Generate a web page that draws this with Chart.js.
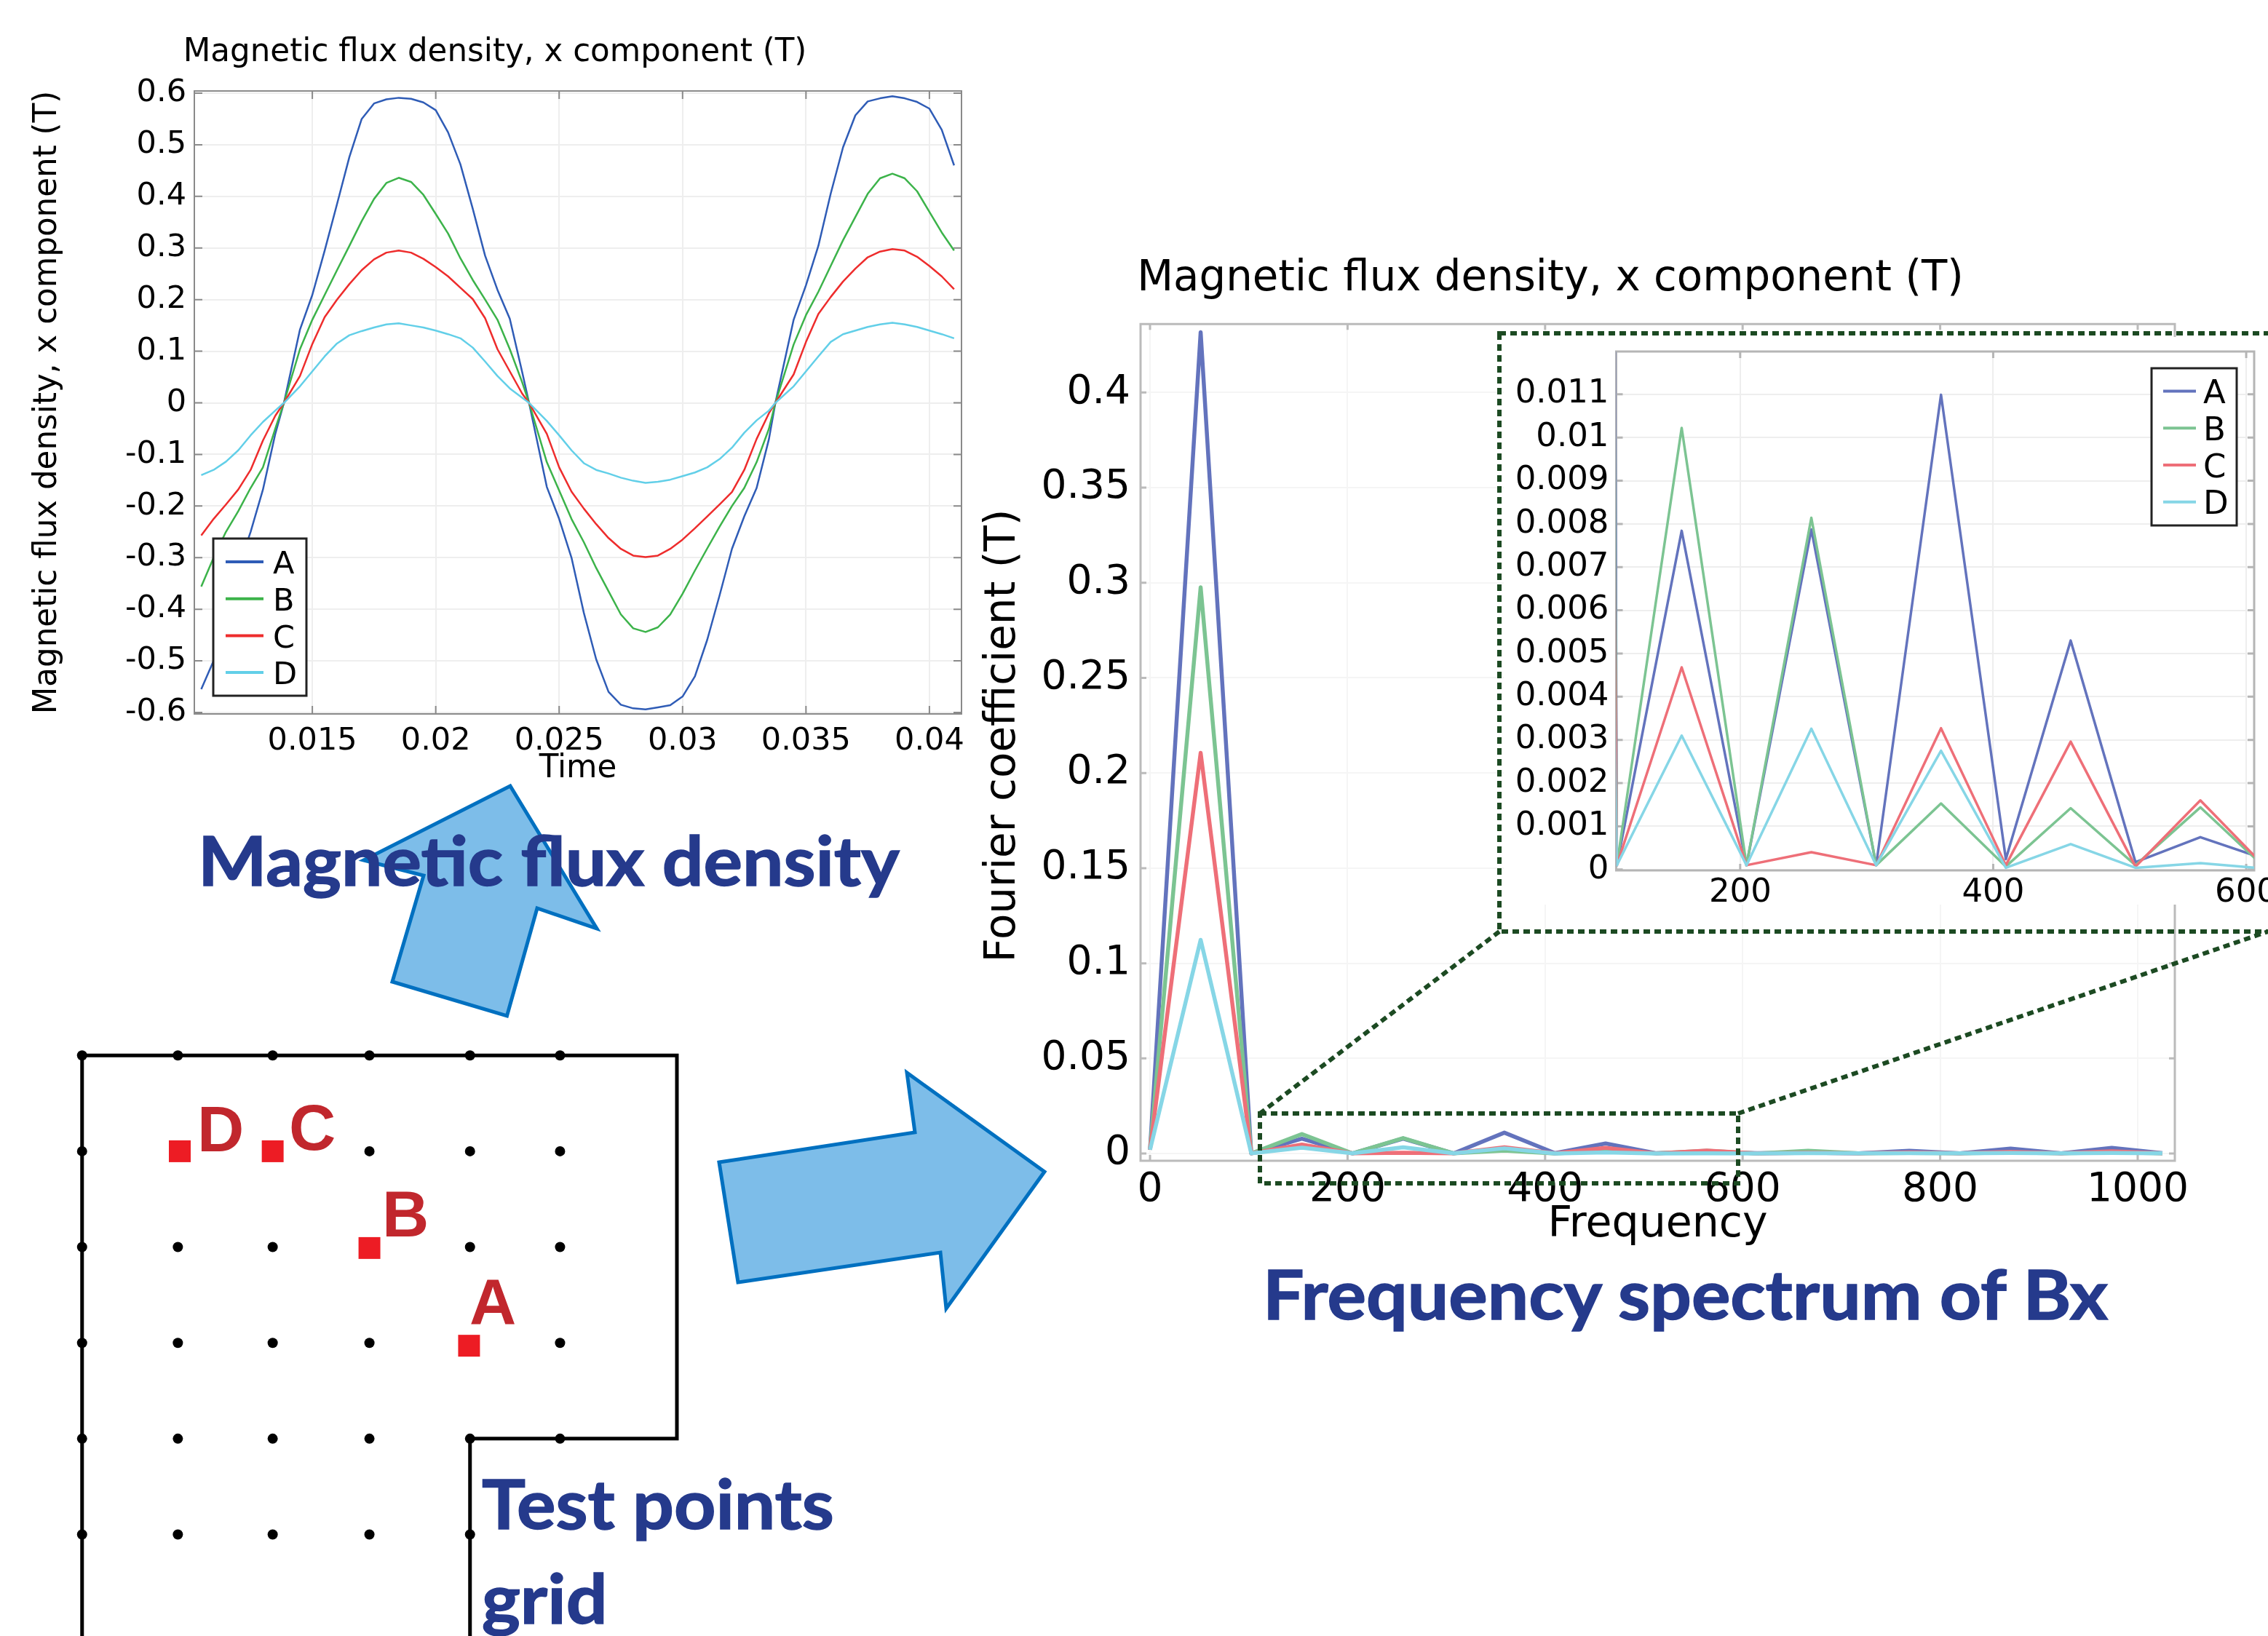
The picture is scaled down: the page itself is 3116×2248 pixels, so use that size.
<!DOCTYPE html>
<html lang="en">
<head>
<meta charset="UTF-8">
<title>Magnetic flux density and frequency spectrum of Bx</title>
<script src="https://cdn.jsdelivr.net/npm/chart.js"></script>
<style>
    html, body { margin: 0; background: #fff; }
    #page { position: relative; width: 3116px; height: 2248px; overflow: hidden; background: #fff; }
    #page canvas, #page svg { position: absolute; }
    .heading { position: absolute; font: bold 94px Lato, sans-serif; color: #253a8c; white-space: nowrap; line-height: 1; transform: scaleX(1.065); transform-origin: left top; -webkit-text-stroke: 1.5px #253a8c; }
    .pointName { position: absolute; font: bold 89px "Liberation Sans", sans-serif; color: #c1272d; line-height: 1; }
</style>
</head>
<body>
<div id="page">
    <canvas id="timeChart" width="1321" height="1090" style="left:39px;top:0"></canvas>
    <canvas id="gridChart" width="900" height="848" style="left:60px;top:1400px"></canvas>
    <canvas id="specChart" width="1788" height="1410" style="left:1272px;top:320px"></canvas>
    <svg width="3116" height="2248" style="left:0;top:0">
        <!-- arrows -->
        <polygon points="701,1080 820,1276 738,1248 696.5,1396 539,1349 582,1203 499.5,1182" fill="#7dbde9" stroke="#0070c0" stroke-width="5"/>
        <polygon points="988,1597 1257,1556 1246,1474 1435,1610 1300,1798 1292,1721 1014,1762" fill="#7dbde9" stroke="#0070c0" stroke-width="5"/>
        <!-- zoom box and connectors -->
        <rect x="2066" y="463" width="1060" height="780" fill="#fff"/>
        <g fill="none" stroke="#1c4a22" stroke-width="6" stroke-dasharray="9 6">
            <rect x="2060" y="458" width="1080" height="822"/>
            <rect x="1731" y="1530" width="657" height="96"/>
            <line x1="2060" y1="1280" x2="1731" y2="1530"/>
            <line x1="2388" y1="1530" x2="3116" y2="1280"/>
        </g>
    </svg>
    <canvas id="insetChart" width="1180" height="800" style="left:2020px;top:440px"></canvas>

    <div class="pointName" style="left:271px;top:1507px">D</div>
    <div class="pointName" style="left:397px;top:1505px">C</div>
    <div class="pointName" style="left:525px;top:1624px">B</div>
    <div class="pointName" style="left:645px;top:1745px">A</div>

    <div class="heading" style="left:272px;top:1134px">Magnetic flux density</div>
    <div class="heading" style="left:1735px;top:1730px">Frequency spectrum of Bx</div>
    <div class="heading" style="left:662px;top:2018px">Test points</div>
    <div class="heading" style="left:662px;top:2148px">grid</div>
</div>

<script>
// time signal
const names = ['A', 'B', 'C', 'D'];
const times = [.0105,.011,.0115,.012,.0125,.013,.0135,.01385,.0145,.015,.0155,.016,.0165,.017,.0175,.018,.0185,.019,.0195,.02,.0205,.021,.0215,.022,.0225,.023,.0235,.02378,.0245,.025,.0255,.026,.0265,.027,.0275,.028,.0285,.029,.0295,.03,.0305,.031,.0315,.032,.0325,.033,.0335,.03376,.0345,.035,.0355,.036,.0365,.037,.0375,.038,.0385,.039,.0395,.04,.0405,.041];
const fluxA = [-.555,-.5,-.43,-.32,-.25,-.168,-.06,0,.142,.209,.295,.385,.476,.55,.58,.588,.591,.589,.582,.567,.524,.462,.376,.285,.219,.163,.06,0,-.163,-.225,-.3,-.407,-.497,-.56,-.585,-.592,-.594,-.59,-.586,-.569,-.53,-.459,-.373,-.283,-.22,-.165,-.07,0,.161,.228,.304,.405,.495,.557,.584,.59,.594,.59,.583,.57,.529,.46];
const fluxB = [-.356,-.3,-.25,-.21,-.165,-.125,-.05,0,.104,.161,.209,.257,.304,.352,.395,.426,.436,.428,.403,.366,.328,.28,.238,.2,.161,.104,.04,0,-.115,-.17,-.225,-.27,-.32,-.365,-.41,-.437,-.444,-.435,-.41,-.37,-.325,-.282,-.24,-.2,-.165,-.115,-.05,0,.113,.17,.215,.265,.315,.36,.405,.435,.444,.435,.41,.37,.33,.295];
const fluxC = [-.257,-.225,-.197,-.168,-.13,-.073,-.025,0,.052,.114,.166,.2,.23,.257,.278,.291,.295,.291,.279,.263,.245,.223,.201,.164,.104,.061,.018,0,-.06,-.125,-.172,-.205,-.235,-.262,-.283,-.296,-.299,-.296,-.283,-.265,-.243,-.22,-.197,-.173,-.13,-.07,-.02,0,.055,.118,.172,.205,.235,.26,.282,.293,.298,.295,.283,.265,.245,.22];
const fluxD = [-.14,-.13,-.114,-.092,-.063,-.037,-.015,0,.032,.061,.09,.115,.131,.139,.146,.152,.154,.15,.146,.14,.133,.125,.107,.08,.052,.028,.01,0,-.035,-.063,-.092,-.117,-.13,-.137,-.145,-.151,-.155,-.153,-.149,-.142,-.135,-.125,-.109,-.087,-.058,-.034,-.015,0,.032,.061,.09,.118,.133,.14,.147,.152,.155,.152,.147,.14,.133,.125];
const timeTicks = [.015,.02,.025,.03,.035,.04];
const fluxTicks = [-.6,-.5,-.4,-.3,-.2,-.1,0,.1,.2,.3,.4,.5,.6];

// Fourier coefficients
const freqs = [0,51.25,102.5,153.75,205,256.25,307.5,358.75,410,461.25,512.5,563.75,615,666.25,717.5,768.75,820,871.25,922.5,973.75,1025];
const specA = [.002,.4317,.0001,.00784,.0001,.00787,.0001,.01099,.00024,.0053,.00017,.00075,.00024,.0004,.0001,.0015,.0001,.0026,.0001,.003,.0002];
const specB = [.002,.2976,.0001,.01022,.0001,.00814,.0001,.00153,.00007,.00142,.0001,.00144,.00004,.0015,.0001,.0003,.0001,.0005,.0001,.0006,.0001];
const specC = [.002,.2106,.0001,.00468,.0001,.0004,.0001,.00327,.0001,.00296,.00007,.0016,.00006,.0004,.0001,.0006,.0001,.0009,.0001,.0012,.0001];
const specD = [.002,.1123,.0001,.0031,.0001,.00326,.0001,.00275,.00004,.00059,.00004,.00015,.00002,.0002,.0001,.0002,.0001,.0003,.0001,.0003,.0001];
const freqTicks = [0,200,400,600,800,1000];
const coefTicks = [0,.05,.1,.15,.2,.25,.3,.35,.4];
const insetFreqTicks = [200,400,600];
const insetCoefTicks = [0,.001,.002,.003,.004,.005,.006,.007,.008,.009,.01,.011];

// test point grid, in grid spacings
const gridDotX = [0,1,1.99,3,4.05,4.99, 0,3,4.05,4.99, 0,1,1.99,4.05,4.99, 0,1,1.99,3,4.99, 0,1,1.99,3,4.05,4.99, 0,1,1.99,3,4.05];
const gridDotY = [0,0,0,0,0,0, 1,1,1,1, 2,2,2,2,2, 3,3,3,3,3, 4,4,4,4,4,4, 5,5,5,5,5];
const outlineX = [0,0,6.21,6.21,4.05,4.05];
const outlineY = [6.2,0,0,4,4,6.2];
const testX = [4.04,3,1.99,1.02];
const testY = [3.03,2.01,1,1];

const sharpColors = ['#2f5cb6', '#3cb34a', '#ee2c2c', '#62cfe8'];
const softColors = ['#6373bd', '#7cc492', '#ee6f78', '#86d6e6'];

Chart.defaults.font.family = '"DejaVu Sans", sans-serif';
Chart.defaults.color = '#000';

// box round the plot with short inward ticks on all four sides
const frameTicks = {
    id: 'frameTicks',
    beforeDatasetsDraw(chart, args, opts) {
        const { ctx, chartArea: a, scales } = chart;
        ctx.save();
        ctx.strokeStyle = opts.color;
        ctx.lineWidth = opts.width;
        ctx.beginPath();
        scales.x.ticks.forEach(t => {
            const x = scales.x.getPixelForValue(t.value);
            ctx.moveTo(x, a.top); ctx.lineTo(x, a.top + opts.len);
            ctx.moveTo(x, a.bottom); ctx.lineTo(x, a.bottom - opts.len);
        });
        scales.y.ticks.forEach(t => {
            const y = scales.y.getPixelForValue(t.value);
            ctx.moveTo(a.left, y); ctx.lineTo(a.left + opts.len, y);
            ctx.moveTo(a.right, y); ctx.lineTo(a.right - opts.len, y);
        });
        ctx.rect(a.left, a.top, a.right - a.left, a.bottom - a.top);
        ctx.stroke();
        ctx.restore();
    }
};

// legend box placed inside the plot
const boxLegend = {
    id: 'boxLegend',
    afterDatasetsDraw(chart, args, opts) {
        if (!opts.colors) return;
        const { ctx } = chart;
        ctx.save();
        ctx.fillStyle = '#fff';
        ctx.strokeStyle = '#222';
        ctx.lineWidth = 3;
        ctx.beginPath();
        ctx.rect(opts.x, opts.y, opts.w, opts.h);
        ctx.fill();
        ctx.stroke();
        ctx.font = opts.size + 'px "DejaVu Sans"';
        ctx.textBaseline = 'middle';
        names.forEach((name, i) => {
            const y = opts.firstY + i * opts.stepY;
            ctx.strokeStyle = opts.colors[i];
            ctx.lineWidth = 4;
            ctx.beginPath();
            ctx.moveTo(opts.lineX, y);
            ctx.lineTo(opts.lineX + opts.lineW, y);
            ctx.stroke();
            ctx.fillStyle = '#000';
            ctx.fillText(name, opts.textX, y + 5);
        });
        ctx.restore();
    }
};

function lineSets(xs, series, colors, width) {
    return series.map((ys, i) => ({
        label: names[i],
        data: xs.map((x, j) => ({ x, y: ys[j] })),
        borderColor: colors[i],
        borderWidth: width,
        borderJoinStyle: 'round',
        pointRadius: 0,
        tension: 0,
        order: series.length - i
    }));
}

function axis(c) {
    const s = {
        type: 'linear',
        min: c.min,
        max: c.max,
        afterBuildTicks: scale => { scale.ticks = c.ticks.map(value => ({ value })); },
        afterFit: scale => {
            if (c.height) scale.height = c.height;
            if (c.width) scale.width = c.width;
        },
        grid: { color: c.gridColor || '#eeeeee', lineWidth: 2, drawTicks: false },
        border: { display: false },
        ticks: {
            font: { size: c.size },
            padding: c.pad,
            autoSkip: false,
            maxRotation: 0,
            callback: v => String(v)
        }
    };
    if (c.title) {
        s.title = { display: true, text: c.title, font: { size: c.titleSize, lineHeight: c.titleLine }, padding: c.titlePad };
    }
    return s;
}

function lineChart(id, datasets, x, y, plugins, padding) {
    return new Chart(document.getElementById(id), {
        type: 'line',
        data: { datasets },
        options: {
            responsive: false,
            animation: false,
            layout: { padding },
            scales: { x: axis(x), y: axis(y) },
            plugins
        },
        plugins: [frameTicks, boxLegend]
    });
}

lineChart('timeChart',
    lineSets(times, [fluxA, fluxB, fluxC, fluxD], sharpColors, 2.5),
    { min: .01022, max: .0413, ticks: timeTicks, size: 43, pad: 12, height: 109, title: 'Time', titleSize: 43.6, titleLine: 1.2, titlePad: { top: 0, bottom: 7 } },
    { min: -.6028, max: .6042, ticks: fluxTicks, size: 43, pad: 11, width: 228, title: 'Magnetic flux density, x component (T)', titleSize: 43.6, titleLine: 1, titlePad: { top: 5, bottom: 0 } },
    {
        legend: { display: false },
        tooltip: { enabled: false },
        title: { display: true, text: 'Magnetic flux density, x component (T)', font: { size: 43.6, weight: 'normal', lineHeight: 1.2 }, padding: { top: 47, bottom: 25.7 } },
        frameTicks: { color: '#8a8a8a', width: 2, len: 11 },
        boxLegend: { x: 254, y: 740, w: 128, h: 216, firstY: 772, stepY: 50.7, lineX: 271, lineW: 52, textX: 336, size: 43, colors: sharpColors }
    },
    { right: 39 });

lineChart('specChart',
    lineSets(freqs, [specA, specB, specC, specD], softColors, 5.5),
    { min: -9.6, max: 1037.6, ticks: freqTicks, size: 55, pad: 8, height: 135, gridColor: '#f5f5f5', title: 'Frequency', titleSize: 58.5, titleLine: 1.2, titlePad: { top: 0, bottom: 11 } },
    { min: -.0038, max: .43595, ticks: coefTicks, size: 55, pad: 14, width: 295, gridColor: '#f5f5f5', title: ' Fourier coefficient (T)', titleSize: 58, titleLine: 1.2, titlePad: { top: 72, bottom: 0 } },
    {
        legend: { display: false },
        tooltip: { enabled: false },
        title: { display: true, text: 'Magnetic flux density, x component (T)', font: { size: 57.8, weight: 'normal', lineHeight: 1.2 }, padding: { top: 29, bottom: 27 } },
        frameTicks: { color: '#bbbbbb', width: 3, len: 8 }
    },
    { right: 72 });

lineChart('insetChart',
    lineSets(freqs, [specA, specB, specC, specD], softColors, 3.5),
    { min: 102, max: 606.3, ticks: insetFreqTicks, size: 45, pad: 4, height: 44 },
    { min: -.00002, max: .01199, ticks: insetCoefTicks, size: 45, pad: 10, width: 200.5 },
    {
        legend: { display: false },
        tooltip: { enabled: false },
        frameTicks: { color: '#b5b5b5', width: 3, len: 9 },
        boxLegend: { x: 936, y: 66, w: 117, h: 216, firstY: 97.6, stepY: 50.7, lineX: 952, lineW: 45, textX: 1007, size: 45, colors: softColors }
    },
    { top: 43, right: 103 });

new Chart(document.getElementById('gridChart'), {
    type: 'scatter',
    data: {
        datasets: [
            {
                data: testX.map((x, i) => ({ x, y: testY[i] })),
                pointStyle: 'rect',
                pointRadius: 21.2,
                backgroundColor: '#ed1c24',
                borderWidth: 0
            },
            {
                data: gridDotX.map((x, i) => ({ x, y: gridDotY[i] })),
                pointRadius: 7,
                backgroundColor: '#000',
                borderWidth: 0
            },
            {
                data: outlineX.map((x, i) => ({ x, y: outlineY[i] })),
                showLine: true,
                pointRadius: 0,
                borderColor: '#000',
                borderWidth: 5
            }
        ]
    },
    options: {
        responsive: false,
        animation: false,
        layout: { autoPadding: false },
        scales: {
            x: { display: false, min: -.401, max: 6.438 },
            y: { display: false, min: -.382, max: 6.06, reverse: true }
        },
        plugins: { legend: { display: false }, tooltip: { enabled: false } }
    }
});
</script>
</body>
</html>
